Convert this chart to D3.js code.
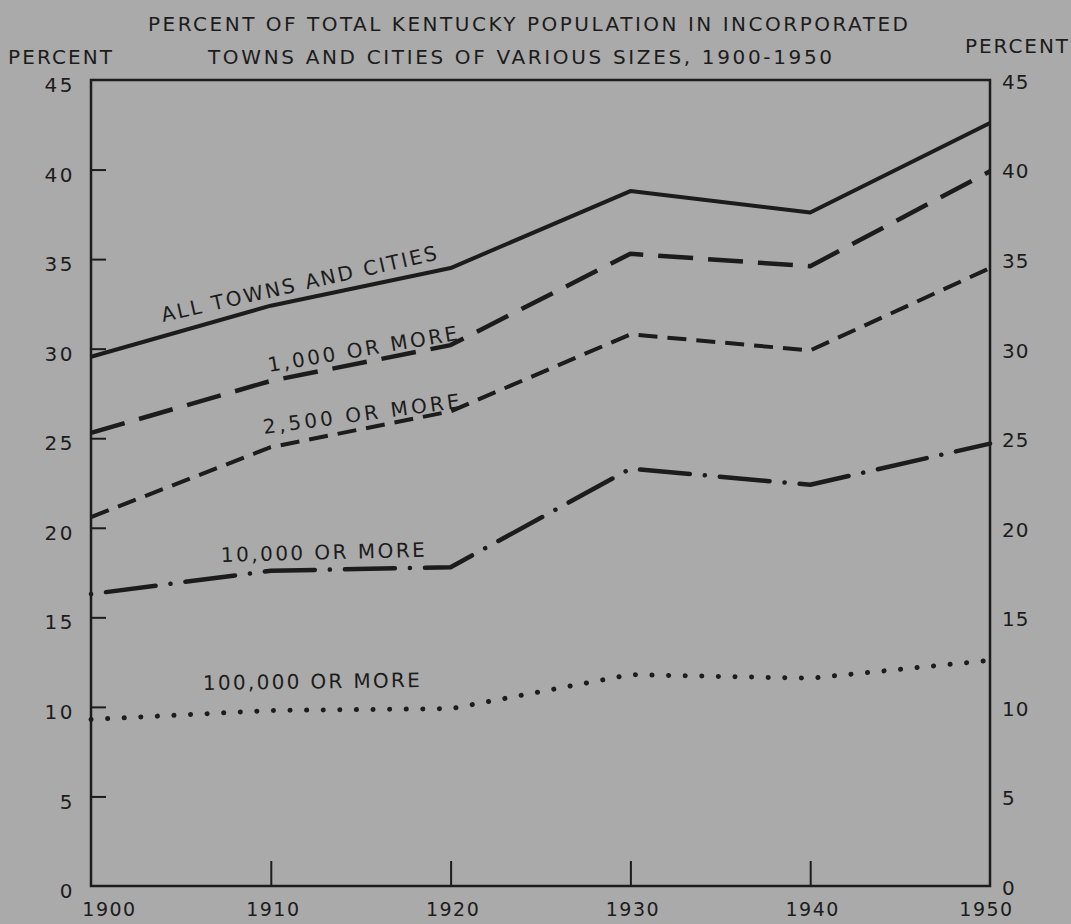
<!DOCTYPE html>
<html>
<head>
<meta charset="utf-8">
<script src="https://cdn.jsdelivr.net/npm/d3@7"></script>
<style>
  body { margin: 0; background: #aaaaaa; }
  svg { display: block; }
  text { font-family: "DejaVu Sans", sans-serif; fill: #1c1c1c; }
</style>
</head>
<body>
<svg id="chart" width="1071" height="924"></svg>
<script>
// years on the x axis
const years = [1900, 1910, 1920, 1930, 1940, 1950];
// percent of total Kentucky population
const allTowns   = [29.55, 32.4, 34.5, 38.8, 37.6, 42.6];
const over1000   = [25.3, 28.2, 30.2, 35.3, 34.6, 39.9];
const over2500   = [20.6, 24.5, 26.5, 30.8, 29.9, 34.5];
const over10000  = [16.3, 17.6, 17.8, 23.3, 22.4, 24.7];
const over100000 = [9.3, 9.8, 9.9, 11.8, 11.6, 12.6];
const yTicks = [0, 5, 10, 15, 20, 25, 30, 35, 40, 45];
const titleLines = ["PERCENT OF TOTAL KENTUCKY POPULATION IN INCORPORATED",
                    "TOWNS AND CITIES OF VARIOUS SIZES, 1900-1950"];

const svg = d3.select("#chart");
const ink = "#1c1c1c";

const x = d3.scaleLinear().domain([1900, 1950]).range([91, 990]);
const y = d3.scaleLinear().domain([0, 45]).range([886, 80]);

// line styles, label placement
const series = [
    {name: "ALL TOWNS AND CITIES", vals: allTowns, dash: null, width: 4, cap: "butt",
     lx: 163, ly: 322, angle: -12.8, len: 282},
    {name: "1,000  OR  MORE", vals: over1000, dash: "35,15", width: 4.5, cap: "butt",
     lx: 269, ly: 372, angle: -9.6, len: 192},
    {name: "2,500  OR  MORE", vals: over2500, dash: "19,10", width: 4, cap: "butt",
     lx: 264, ly: 434, angle: -7.6, len: 198},
    {name: "10,000  OR  MORE", vals: over10000, dash: "0.1,15,50,15", width: 4.5, cap: "round",
     lx: 221, ly: 562, angle: -1.5, len: 204},
    {name: "100,000  OR  MORE", vals: over100000, dash: "0.1,16.5", width: 5, cap: "round",
     lx: 203, ly: 690, angle: -0.8, len: 217}
];

// frame
svg.append("rect")
    .attr("x", x(1900)).attr("y", y(45))
    .attr("width", x(1950) - x(1900)).attr("height", y(0) - y(45))
    .attr("fill", "none").attr("stroke", ink).attr("stroke-width", 2.5);

// left axis, ticks pointing inward
const left = svg.append("g").attr("transform", "translate(" + x(1900) + ",0)")
    .call(d3.axisLeft(y).tickValues(yTicks).tickSize(-15).tickPadding(16));
left.select(".domain").remove();
left.selectAll("line").attr("stroke", ink).attr("stroke-width", 2)
    .filter(d => d == 0 || d == 45).remove();
left.selectAll("text").attr("font-size", "20px").attr("dy", "0.58em")
    .attr("letter-spacing", "2.5px").attr("fill", ink);

// right axis, labels only
const right = svg.append("g").attr("transform", "translate(" + x(1950) + ",0)")
    .call(d3.axisRight(y).tickValues(yTicks).tickSize(0).tickPadding(12));
right.select(".domain").remove();
right.selectAll("text").attr("font-size", "20px").attr("dy", "0.42em")
    .attr("letter-spacing", "1px").attr("fill", ink);

// bottom axis
const bottom = svg.append("g").attr("transform", "translate(0," + y(0) + ")")
    .call(d3.axisBottom(x).tickValues(years).tickSize(-25).tickPadding(17).tickFormat(d3.format("d")));
bottom.select(".domain").remove();
bottom.selectAll("line").attr("stroke", ink).attr("stroke-width", 2)
    .filter(d => d == 1900 || d == 1950).remove();
bottom.selectAll("text").attr("font-size", "19px").attr("letter-spacing", "1.5px").attr("fill", ink)
    .attr("dx", d => d == 1900 ? 18 : (d == 1950 ? -4 : 2));

// lines
const line = d3.line().x((d, i) => x(years[i])).y(d => y(d));
svg.selectAll("path.series")
    .data(series)
    .enter()
    .append("path")
    .attr("class", "series")
    .attr("d", d => line(d.vals))
    .attr("fill", "none")
    .attr("stroke", ink)
    .attr("stroke-width", d => d.width)
    .attr("stroke-linecap", d => d.cap)
    .attr("stroke-linejoin", "round")
    .attr("stroke-dasharray", d => d.dash);

// line labels
svg.selectAll("text.label")
    .data(series)
    .enter()
    .append("text")
    .attr("class", "label")
    .attr("transform", d => "translate(" + d.lx + "," + d.ly + ") rotate(" + d.angle + ")")
    .attr("font-size", "20px")
    .attr("textLength", d => d.len)
    .attr("lengthAdjust", "spacing")
    .text(d => d.name);

// title
svg.append("text").attr("x", 148).attr("y", 31).attr("font-size", "20px")
    .attr("textLength", 760).attr("lengthAdjust", "spacing").text(titleLines[0]);
svg.append("text").attr("x", 208).attr("y", 64).attr("font-size", "20px")
    .attr("textLength", 624).attr("lengthAdjust", "spacing").text(titleLines[1]);

// axis titles
svg.append("text").attr("x", 8).attr("y", 64).attr("font-size", "20px")
    .attr("textLength", 104).attr("lengthAdjust", "spacing").text("PERCENT");
svg.append("text").attr("x", 965).attr("y", 53).attr("font-size", "20px")
    .attr("textLength", 103).attr("lengthAdjust", "spacing").text("PERCENT");
</script>
</body>
</html>
